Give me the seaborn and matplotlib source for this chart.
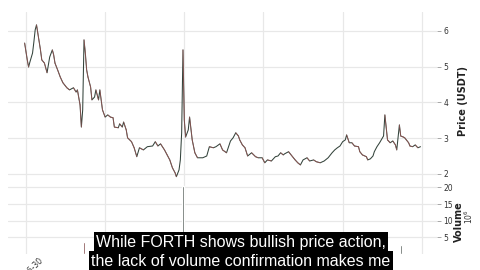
import matplotlib
matplotlib.use("Agg")
import matplotlib.pyplot as plt
import seaborn as sns
import pandas as pd
import numpy as np

# ---- data ----
days = [-1, 1, 2, 3, 5, 6, 7, 8, 9, 11, 12, 14, 16,
        18, 20, 21, 22, 24, 26, 28, 31, 33, 36, 38, 39, 41, 42,
        43, 44, 45, 46, 47, 49, 50, 52, 53, 55, 56,
        58, 60, 62, 64, 66, 67, 70, 71, 73, 74, 76, 77,
        80, 82, 84, 86, 89, 92, 96, 98, 100, 102, 105, 107, 109, 111, 113, 114, 116, 117, 118,
        119, 120, 121, 123, 124, 126, 128, 130, 134, 137, 139, 142, 144, 147, 149, 152,
        155, 157, 159, 161, 162, 164, 166, 168, 171, 174, 176, 179, 181, 183,
        186, 189, 191, 193, 195, 196, 199, 202, 204, 206, 208, 210,
        213, 215, 218, 220, 223, 226, 229, 232, 234, 236, 238, 240, 242,
        243, 245, 247, 249, 252, 253, 255, 258, 259, 261, 263, 264, 266, 268, 271,
        272, 274, 276, 278, 280, 281, 283, 284, 286, 287, 290, 291, 293, 295, 297, 299]
prices = [5.66, 5.19, 4.99, 5.13, 5.38, 5.69, 6.03, 6.17, 5.94, 5.47, 5.19, 5.10, 4.83,
          5.27, 5.47, 5.33, 5.10, 4.91, 4.71, 4.55, 4.41, 4.35, 4.41, 4.29, 4.35, 3.93, 3.31,
          3.79, 5.75, 5.38, 4.91, 4.71, 4.43, 4.07, 4.15, 4.35, 4.07, 4.35,
          3.79, 3.59, 3.65, 3.59, 3.57, 3.31, 3.29, 3.40, 3.31, 3.45, 3.23, 3.01,
          2.90, 2.73, 2.48, 2.73, 2.67, 2.76, 2.78, 2.90, 2.78, 2.84, 2.67, 2.53, 2.39, 2.17, 2.03, 1.92, 2.11, 2.39, 3.15,
          5.47, 3.51, 3.03, 3.23, 3.59, 2.95, 2.59, 2.45, 2.45, 2.50, 2.76, 2.73, 2.76, 2.84, 2.67, 2.59,
          2.92, 3.01, 3.15, 3.06, 2.95, 2.81, 2.73, 2.50, 2.59, 2.48, 2.45, 2.45, 2.31, 2.39,
          2.36, 2.48, 2.50, 2.59, 2.53, 2.56, 2.62, 2.48, 2.39, 2.31, 2.25, 2.39,
          2.45, 2.36, 2.39, 2.34, 2.31, 2.36, 2.45, 2.59, 2.67, 2.73, 2.78, 2.90, 2.95,
          3.09, 2.87, 2.87, 2.78, 2.76, 2.62, 2.53, 2.48, 2.39, 2.42, 2.50, 2.62, 2.76, 2.87, 3.06,
          3.65, 2.95, 2.87, 2.92, 2.81, 2.67, 3.37, 3.06, 3.03, 3.01, 2.87, 2.78, 2.76, 2.81, 2.73, 2.76]

vol_days = [44, 119, 284]
vol_millions = [3.6, 20.5, 2.6]
vol_colors = ["#6b2a2a", "#3f4a44", "#3f4a44"]

tick_days = [0, 60, 120, 180, 240, 300]
tick_labels = ["2022-06-30", "2022-08-29", "2022-10-28", "2022-12-27", "2023-02-25", ""]
price_ticks = [2, 3, 4, 5, 6]
vol_ticks = [5, 10, 15, 20]

subtitle_1 = "While FORTH shows bullish price action,"
subtitle_2 = "the lack of volume confirmation makes me"

# ---- figure ----
sns.set_theme(style="white")
plt.rcParams["font.family"] = ["DejaVu Sans"]

fig = plt.figure(figsize=(4.8, 2.7), dpi=100)
W, H = 480.0, 270.0
ax = fig.add_axes([8 / W, 1 - 181 / H, (437 - 8) / W, (181 - 12) / H])
axv = fig.add_axes([8 / W, 1 - 254 / H, (437 - 8) / W, (254 - 181) / H], sharex=ax)

df = pd.DataFrame({"day": days, "price": prices})
sns.lineplot(data=df, x="day", y="price", ax=ax, color="#33433b", lw=0.75, zorder=3)
# red tint on falling segments (candle look)
for i in range(1, len(days)):
    if prices[i] < prices[i - 1]:
        ax.plot(days[i - 1:i + 1], prices[i - 1:i + 1], color="#a85a5a", lw=0.55, alpha=0.8, zorder=4)

axv.bar(vol_days, vol_millions, width=1.3, color=vol_colors, zorder=3)

grid_c = "#e8e8e8"
for a in (ax, axv):
    for s in a.spines.values():
        s.set_visible(False)
    a.set_xlim(-13.6, 311.5)
    a.set_xticks(tick_days)
    a.grid(True, color=grid_c, lw=0.9)
    a.yaxis.tick_right()
    a.tick_params(axis="y", which="both", right=True, length=3, width=0.6, color="#999999",
                  labelsize=5.5, labelcolor="#333333", pad=1.5)
    a.set_facecolor("white")

ax.set_ylim(1.80, 6.53)
ax.set_yticks(price_ticks)
ax.set_yticklabels([str(t) for t in price_ticks])
ax.set_xlabel("")
ax.set_ylabel("")
ax.tick_params(axis="x", bottom=False, labelbottom=False)

axv.set_ylim(0, 21.9)
axv.set_yticks(vol_ticks)
axv.set_yticklabels([str(t) for t in vol_ticks])
axv.set_xticklabels(tick_labels, rotation=45, ha="center", fontsize=5.5, color="#333333")
axv.tick_params(axis="x", bottom=False, length=0, pad=1)

fig.text(463 / W, 1 - 101 / H, "Price (USDT)", rotation=90, ha="center", va="center",
         fontsize=7, fontweight="bold", color="#222222")
fig.text(459 / W, 1 - 222 / H, "Volume", rotation=90, ha="center", va="center",
         fontsize=7, fontweight="bold", color="#222222")
fig.text(469 / W, 1 - 217 / H, r"$10^6$", rotation=90, ha="center", va="center",
         fontsize=5.5, color="#333333")

box = dict(facecolor="black", edgecolor="none", pad=1.5)
fig.text(241 / W, 1 - 242 / H, subtitle_1, ha="center", va="center", fontsize=11.5,
         family=["Liberation Sans", "DejaVu Sans"], color="white", bbox=box, zorder=10)
fig.text(241 / W, 1 - 261 / H, subtitle_2, ha="center", va="center", fontsize=11.5,
         family=["Liberation Sans", "DejaVu Sans"], color="white", bbox=box, zorder=10)

fig.savefig("out.png", dpi=100)
